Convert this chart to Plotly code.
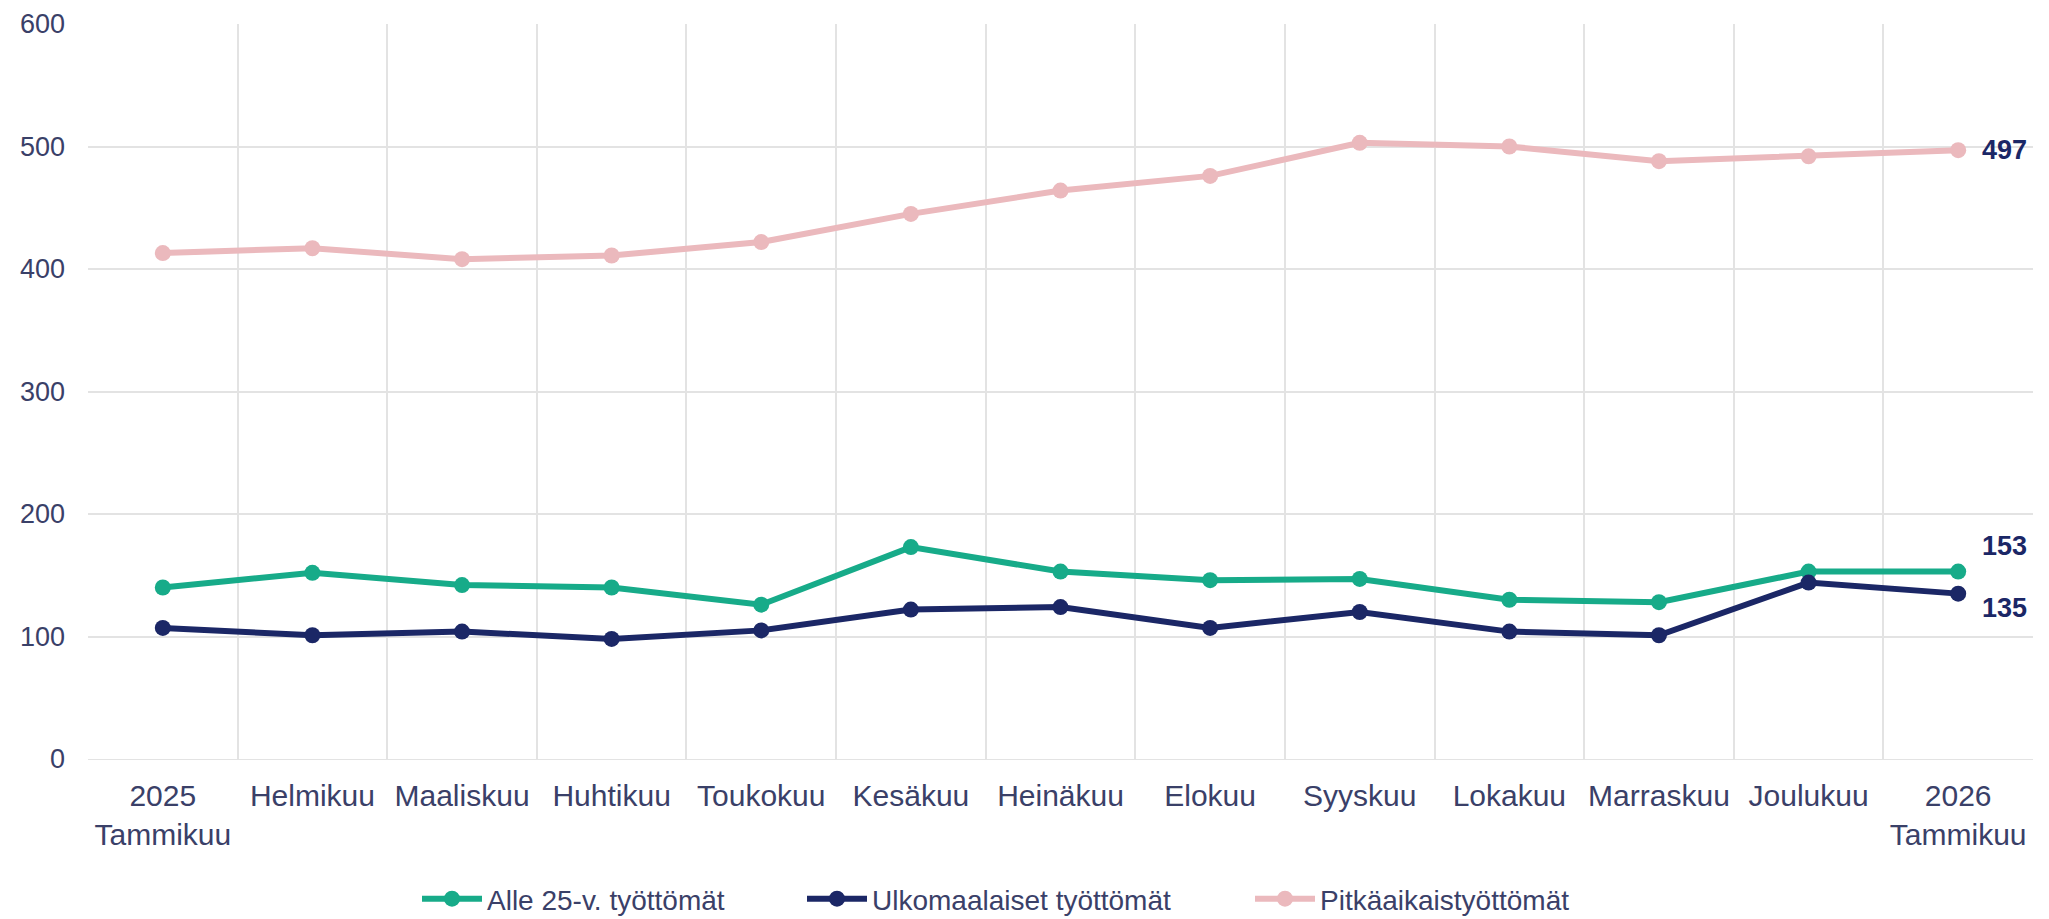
import plotly.graph_objects as go

months = ["2025<br>Tammikuu", "Helmikuu", "Maaliskuu", "Huhtikuu", "Toukokuu", "Kesäkuu",
          "Heinäkuu", "Elokuu", "Syyskuu", "Lokakuu", "Marraskuu", "Joulukuu", "2026<br>Tammikuu"]
alle25 = [140, 152, 142, 140, 126, 173, 153, 146, 147, 130, 128, 153, 153]
ulkomaalaiset = [107, 101, 104, 98, 105, 122, 124, 107, 120, 104, 101, 144, 135]
pitkaaikais = [413, 417, 408, 411, 422, 445, 464, 476, 503, 500, 488, 492, 497]
y_ticks = [0, 100, 200, 300, 400, 500, 600]

GREEN = "#17AB89"
NAVY = "#1B2766"
PINK = "#EBB9BD"
TEXT = "#3A4068"
FONT = "Liberation Sans, Arial, sans-serif"

# the page has an 8px body margin; figure starts at page (8, 8)
W, H = 2049, 919
OFF = 8
series = [("Alle 25-v. työttömät", alle25, GREEN, "legend", 425),
          ("Ulkomaalaiset työttömät", ulkomaalaiset, NAVY, "legend2", 810),
          ("Pitkäaikaistyöttömät", pitkaaikais, PINK, "legend3", 1258)]

fig = go.Figure()
for name, vals, col, lg, _ in series:
    fig.add_trace(go.Scatter(x=months, y=vals, name=name, mode="lines+markers",
                             line=dict(color=col, width=6),
                             marker=dict(color=col, size=16),
                             legend=lg))

# end labels
for vals, yshift in [(pitkaaikais, 0), (alle25, 26), (ulkomaalaiset, -14)]:
    fig.add_annotation(x=months[-1], y=vals[-1], text=f"<b>{vals[-1]}</b>",
                       showarrow=False, xanchor="left", xshift=22, yshift=yshift,
                       font=dict(size=27, color=NAVY, family=FONT))

legend_common = dict(orientation="h", xref="container", yref="container",
                     xanchor="left", yanchor="middle", y=(H - (899 - OFF)) / H,
                     font=dict(family=FONT, size=28, color=TEXT),
                     itemwidth=60, bgcolor="rgba(0,0,0,0)")
layout_legends = {}
for name, vals, col, lg, sx in series:
    layout_legends[lg] = dict(legend_common, x=(sx - OFF - 8) / W)

fig.update_layout(
    width=W, height=H,
    paper_bgcolor="white", plot_bgcolor="white",
    margin=dict(l=88 - OFF, r=(W + OFF) - 2033, t=24 - OFF, b=(H + OFF) - 759),
    font=dict(family=FONT, color=TEXT, size=28),
    showlegend=True,
    **layout_legends,
)
fig.update_xaxes(type="category", range=[-0.5, 12.5], tickson="boundaries", showgrid=True,
                 gridcolor="#E3E3E3", gridwidth=1.5, showline=True, linecolor="#E3E3E3",
                 ticks="", tickangle=0, ticklabeloverflow="allow",
                 tickfont=dict(size=30, color=TEXT), ticklabelstandoff=10, automargin=False)
fig.update_yaxes(range=[0, 600], tickvals=y_ticks, showgrid=True, gridcolor="#E3E3E3",
                 gridwidth=1.5, zeroline=True, zerolinecolor="#E3E3E3", zerolinewidth=1.5,
                 ticklabeloverflow="allow",
                 tickfont=dict(size=27, color=TEXT), ticklabelstandoff=22, automargin=False)

fig.write_html("out.html")
